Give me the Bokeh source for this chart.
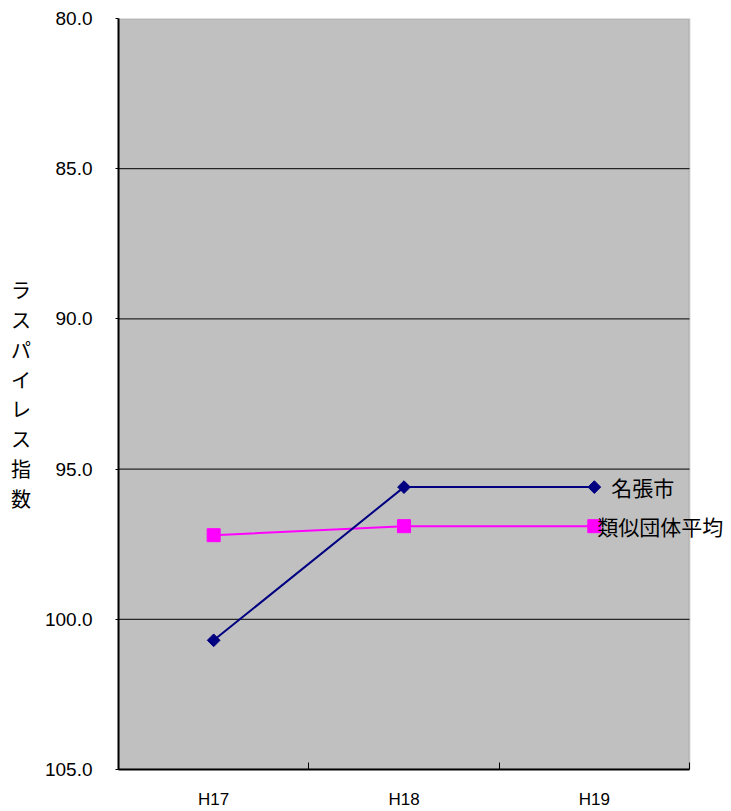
from bokeh.plotting import figure
from bokeh.models import Range1d, FixedTicker, Label, ColumnDataSource, BoxAnnotation
from bokeh.embed import file_html
from bokeh.resources import INLINE

# Fiscal years and index values
years = ["H17", "H18", "H19"]
nabari = [100.7, 95.6, 95.6]
ruiji = [97.2, 96.9, 96.9]
series_names = ["名張市", "類似団体平均"]
y_ticks = [80, 85, 90, 95, 100, 105]
axis_title = "ラスパイレス指数"

JP_FONT = "Noto Sans CJK JP"
NUM_FONT = "Liberation Sans"

n = len(years)
xs = [i + 0.5 for i in range(n)]

# the frame runs to the right edge so the series names are not clipped;
# the grey plot area covers only the category span [0, n]
W, H = 731, 811
LEFT, RIGHT_GAP = 118, 42
x_end = n * (W - LEFT) / (W - LEFT - RIGHT_GAP)

p = figure(width=W, height=H, output_backend="svg", toolbar_location=None,
           x_range=Range1d(0, x_end), y_range=Range1d(105, 80),
           min_border_left=LEFT, min_border_right=0, min_border_top=18,
           min_border_bottom=41)
p.background_fill_color = "white"
p.border_fill_color = "white"
p.outline_line_color = None

p.add_layout(BoxAnnotation(left=0, right=n, fill_color="#C0C0C0", fill_alpha=1,
                           line_color="#808080", line_width=2, level="underlay"))

# y axis
p.yaxis.ticker = FixedTicker(ticks=y_ticks)
p.yaxis.major_label_overrides = {t: f"{t:.1f}" for t in y_ticks}
p.yaxis.axis_line_color = "black"
p.yaxis.axis_line_width = 2
p.yaxis.major_tick_in = 0
p.yaxis.major_tick_out = 3
p.yaxis.minor_tick_line_color = None
p.yaxis.major_label_standoff = 23
p.yaxis.major_label_text_font = NUM_FONT
p.yaxis.major_label_text_font_size = "19px"
p.yaxis.major_label_text_color = "black"

# title stacked one upright character per line
p.yaxis.axis_label = "\n".join(axis_title)
p.yaxis.axis_label_orientation = "horizontal"
p.yaxis.axis_label_text_font = JP_FONT
p.yaxis.axis_label_text_font_size = "20px"
p.yaxis.axis_label_text_font_style = "normal"
p.yaxis.axis_label_text_line_height = 1.03
p.yaxis.axis_label_text_color = "black"
p.yaxis.axis_label_standoff = 11

# x axis: labels at category centres, ticks at category boundaries
p.xaxis.bounds = (0, n)
p.xaxis.ticker = FixedTicker(ticks=xs, minor_ticks=list(range(0, n + 1)))
p.xaxis.major_label_overrides = {x: y for x, y in zip(xs, years)}
p.xaxis.axis_line_color = "black"
p.xaxis.axis_line_width = 2
p.xaxis.major_tick_line_color = None
p.xaxis.minor_tick_in = 7
p.xaxis.minor_tick_out = 0
p.xaxis.minor_tick_line_color = "black"
p.xaxis.major_label_standoff = 14
p.xaxis.major_label_text_font = NUM_FONT
p.xaxis.major_label_text_font_size = "17px"
p.xaxis.major_label_text_color = "black"

p.xgrid.grid_line_color = None
p.ygrid.grid_line_color = None

# horizontal grid lines across the category span only
inner = [t for t in y_ticks if t not in (min(y_ticks), max(y_ticks))]
p.segment(x0=[0] * len(inner), x1=[n] * len(inner), y0=inner, y1=inner,
          line_color="black", line_width=1)

src = ColumnDataSource(dict(x=xs, nabari=nabari, ruiji=ruiji))

p.line("x", "ruiji", source=src, line_color="#FF00FF", line_width=2)
p.scatter("x", "ruiji", source=src, marker="square", size=13,
          fill_color="#FF00FF", line_color="#FF00FF")
p.line("x", "nabari", source=src, line_color="#000080", line_width=2)
p.scatter("x", "nabari", source=src, marker="square", angle=0.7854, size=9,
          fill_color="#000080", line_color="#000080")

# series names at the end of each line
p.add_layout(Label(x=xs[-1], y=nabari[-1], text=series_names[0], x_offset=17,
                   text_baseline="middle", text_font=JP_FONT,
                   text_font_size="21px", text_color="black"))
p.add_layout(Label(x=xs[-1], y=ruiji[-1], text=series_names[1], x_offset=3,
                   text_baseline="middle", text_font=JP_FONT,
                   text_font_size="21px", text_color="black"))

open("out.html", "w").write(file_html(p, INLINE))
